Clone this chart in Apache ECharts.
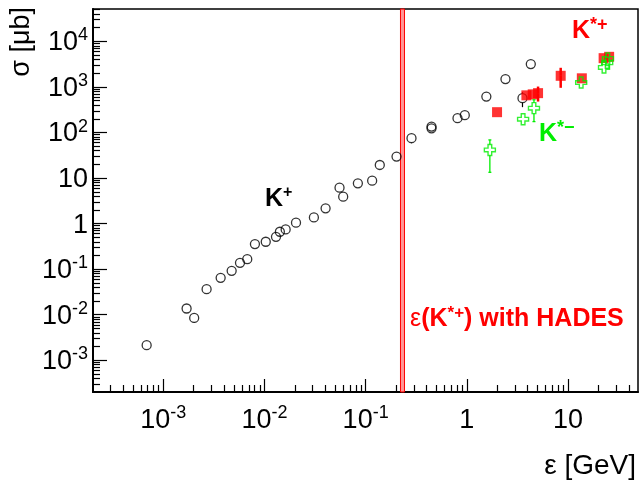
<!DOCTYPE html>
<html>
<head>
<meta charset="utf-8">
<script src="https://cdn.jsdelivr.net/npm/echarts@6/dist/echarts.min.js"></script>
<style>
  html, body { margin: 0; padding: 0; background: #fff; }
  #chart { width: 641px; height: 484px; }
</style>
</head>
<body>
<div id="chart"></div>
<script>
// ---- K+ production cross sections (open circles) ----
const kPlusEnergy = [6.85e-4, 1.70e-3, 2.02e-3, 2.68e-3, 3.69e-3, 4.74e-3, 5.73e-3, 6.76e-3, 8.05e-3,
  1.03e-2, 1.30e-2, 1.42e-2, 1.62e-2, 2.05e-2, 3.08e-2, 4.02e-2, 5.52e-2, 6.0e-2, 8.38e-2,
  0.116, 0.138, 0.202, 0.284, 0.448, 0.448, 0.809, 0.955, 1.56, 2.41, 3.55, 4.29];
const kPlusSigma = [2.14e-3, 1.37e-2, 8.5e-3, 3.64e-2, 6.46e-2, 9.2e-2, 0.138, 0.166, 0.356,
  0.40, 0.514, 0.663, 0.748, 1.05, 1.37, 2.17, 6.15, 3.90, 7.69,
  8.77, 19.4, 29.6, 75.1, 135, 124, 207, 241, 617, 1490, 569, 3184];
// K+ points that carry visible error bars
const kPlusErrEnergy = [2.02e-3, 6.0e-2, 0.284, 0.448, 3.55];
const kPlusErrSigma  = [8.5e-3, 3.90, 75.1, 124, 569];
const kPlusErrLow    = [6.6e-3, 3.1, 58, 105, 361];
const kPlusErrHigh   = [8.5e-3, 3.90, 75.1, 124, 771];

// ---- K*+ cross sections (filled squares) ----
const kStarPlusEnergy = [1.99, 3.88, 4.48, 5.06, 8.47, 13.7, 22.5, 25.5];
const kStarPlusSigma  = [280, 656, 690, 733, 1761, 1552, 4300, 4600];
const kStarPlusErrEnergy = [5.06, 8.47];
const kStarPlusErrSigma  = [733, 1761];
const kStarPlusErrLow    = [479, 960];
const kStarPlusErrHigh   = [1023, 2642];

// ---- K*- cross sections (open crosses) ----
const kStarMinusEnergy = [1.69, 3.60, 4.61, 13.5, 22.7, 24.4, 24.8];
const kStarMinusSigma  = [41.5, 196, 343, 1254, 2682, 3406, 4227];
const kStarMinusErrEnergy = [1.69, 4.61];
const kStarMinusErrSigma  = [41.5, 343];
const kStarMinusErrLow    = [13.4, 174];
const kStarMinusErrHigh   = [68.9, 523];

// excess energy reachable for K*+ with HADES (vertical band)
const hadesBand = [0.221, 0.242];

// ---- axis ticks ----
const xTickValues = [1e-3, 1e-2, 1e-1, 1, 10];
const yTickValues = [1e-3, 1e-2, 1e-1, 1, 10, 1e2, 1e3, 1e4];
const X_MIN = 2.02e-4, X_MAX = 49.2;
const Y_MIN = 2.01e-4, Y_MAX = 5.16e4;

function minorTicks(lo, hi) {
  const out = [];
  for (let e = -5; e <= 5; e++) {
    for (let k = 2; k <= 9; k++) {
      const v = k * Math.pow(10, e);
      if (v > lo && v < hi) out.push(v);
    }
  }
  return out;
}
const xMinor = minorTicks(X_MIN, X_MAX);
const yMinor = minorTicks(Y_MIN, Y_MAX);

const FONT = '"Liberation Sans", Arial, Helvetica, sans-serif';

function powLabel(v) {
  const e = Math.round(Math.log10(v));
  if (e === 0) return '{b|1}';
  if (e === 1) return '{b|10}';
  return '{b|10}{s|' + e + '}';
}
const tickRich = {
  b: { fontFamily: FONT, fontSize: 27, lineHeight: 30, color: '#000', verticalAlign: 'bottom' },
  s: { fontFamily: FONT, fontSize: 18, lineHeight: 18, color: '#000', verticalAlign: 'top' }
};

const zip = (a, b) => a.map((v, i) => [v, b[i]]);
const zip4 = (a, b, c, d) => a.map((v, i) => [v, b[i], c[i], d[i]]);

// vertical error bars that stop at the marker edge
function errorBarSeries(data, color, width, gap, cap, z) {
  return {
    type: 'custom',
    xAxisIndex: 0, yAxisIndex: 0,
    z: z,
    silent: true,
    encode: { x: 0, y: [1, 2, 3] },
    data: data,
    renderItem: function (params, api) {
      const x = api.value(0), y = api.value(1), lo = api.value(2), hi = api.value(3);
      const pc = api.coord([x, y]);
      const pl = api.coord([x, lo]);
      const ph = api.coord([x, hi]);
      const children = [];
      const st = { stroke: color, lineWidth: width };
      if (pl[1] > pc[1] + gap) children.push({ type: 'line', shape: { x1: pc[0], y1: pc[1] + gap, x2: pl[0], y2: pl[1] }, style: st });
      if (ph[1] < pc[1] - gap) children.push({ type: 'line', shape: { x1: pc[0], y1: pc[1] - gap, x2: ph[0], y2: ph[1] }, style: st });
      if (cap > 0) {
        children.push({ type: 'line', shape: { x1: pl[0] - cap, y1: pl[1], x2: pl[0] + cap, y2: pl[1] }, style: st });
        children.push({ type: 'line', shape: { x1: ph[0] - cap, y1: ph[1], x2: ph[0] + cap, y2: ph[1] }, style: st });
      }
      return { type: 'group', children: children };
    }
  };
}

function logAxis(isX, major) {
  const min = isX ? X_MIN : Y_MIN, max = isX ? X_MAX : Y_MAX;
  return {
    type: 'log', logBase: 10, min: min, max: max,
    position: isX ? 'bottom' : 'left',
    axisLine: { show: major, onZero: false, lineStyle: { color: '#000', width: 2 } },
    axisTick: {
      show: true, inside: true,
      length: major ? (isX ? 13 : 14) : 7,
      lineStyle: { color: '#000', width: 1.2 },
      customValues: major ? (isX ? xTickValues : yTickValues) : (isX ? xMinor : yMinor)
    },
    axisLabel: major ? {
      show: true,
      customValues: isX ? xTickValues : yTickValues,
      formatter: powLabel,
      rich: tickRich,
      margin: isX ? 12 : 5
    } : { show: false },
    splitLine: { show: false },
    minorTick: { show: false }
  };
}

// label with a superscript part
function supText(parts, x, y) {
  return {
    type: 'text', x: x, y: y, z: 100,
    style: {
      text: parts.text,
      rich: parts.rich,
      align: 'left', verticalAlign: 'middle'
    }
  };
}
function richStyles(color, size, supSize, weight) {
  return {
    b: { fill: color, fontFamily: FONT, fontSize: size, fontWeight: weight, lineHeight: size + 2, verticalAlign: 'bottom' },
    s: { fill: color, fontFamily: FONT, fontSize: supSize, fontWeight: weight, lineHeight: supSize, verticalAlign: 'top' },
    e: { fill: color, fontFamily: FONT, fontSize: size, fontWeight: 'normal', lineHeight: size + 2, verticalAlign: 'bottom' }
  };
}

const chart = echarts.init(document.getElementById('chart'), null, { renderer: 'canvas' });

chart.setOption({
  animation: false,
  backgroundColor: '#fff',
  grid: { left: 93, right: 3, top: 9, bottom: 92, show: true, borderColor: '#000', borderWidth: 1.5, backgroundColor: 'transparent' },
  xAxis: [logAxis(true, true), logAxis(true, false)],
  yAxis: [logAxis(false, true), logAxis(false, false)],
  graphic: [
    {
      type: 'text', x: 22, y: 7, rotation: Math.PI / 2,
      style: { text: 'σ [μb]', fill: '#000', font: '27px ' + FONT, align: 'right', verticalAlign: 'middle' }
    },
    {
      type: 'text', x: 636, y: 466,
      style: { text: 'ε [GeV]', fill: '#000', font: '28px ' + FONT, align: 'right', verticalAlign: 'middle' }
    },
    supText({ text: '{b|K}{s|+}', rich: richStyles('#000', 25, 16, 'bold') }, 265, 198),
    supText({ text: '{b|K}{s|*+}', rich: richStyles('#ff0000', 25, 18, 'bold') }, 572, 30),
    supText({ text: '{b|K}{s|*−}', rich: richStyles('#00ee00', 25, 18, 'bold') }, 539, 133),
    supText({ text: '{e|ε}{b|(K}{s|*+}{b|) with HADES}', rich: richStyles('#ff0000', 25, 17, 'bold') }, 410, 318)
  ],
  series: [
    {
      name: 'HADES', type: 'line', data: [], xAxisIndex: 0, yAxisIndex: 0, z: 1,
      markArea: {
        silent: true,
        itemStyle: { color: 'rgba(255,140,140,0.9)', borderColor: '#ff0000', borderWidth: 1 },
        data: [[{ xAxis: hadesBand[0] }, { xAxis: hadesBand[1] }]]
      }
    },
    errorBarSeries(zip4(kPlusErrEnergy, kPlusErrSigma, kPlusErrLow, kPlusErrHigh), '#000', 1.2, 4.5, 0, 3),
    {
      name: 'K+', type: 'scatter', xAxisIndex: 0, yAxisIndex: 0, z: 4,
      data: zip(kPlusEnergy, kPlusSigma),
      symbol: 'circle', symbolSize: 9,
      itemStyle: { color: 'rgba(0,0,0,0)', borderColor: '#000', borderWidth: 1.3 }
    },
    errorBarSeries(zip4(kStarPlusErrEnergy, kStarPlusErrSigma, kStarPlusErrLow, kStarPlusErrHigh), '#ff0000', 2.5, 0, 0, 5),
    {
      name: 'K*+', type: 'scatter', xAxisIndex: 0, yAxisIndex: 0, z: 6,
      data: zip(kStarPlusEnergy, kStarPlusSigma),
      symbol: 'rect', symbolSize: 10,
      itemStyle: { color: '#ff0000' }
    },
    errorBarSeries(zip4(kStarMinusErrEnergy, kStarMinusErrSigma, kStarMinusErrLow, kStarMinusErrHigh), '#00ee00', 1.3, 5.5, 1.5, 7),
    {
      name: 'K*-', type: 'scatter', xAxisIndex: 0, yAxisIndex: 0, z: 8,
      data: zip(kStarMinusEnergy, kStarMinusSigma),
      symbol: 'path://M4,0 H8 V4 H12 V8 H8 V12 H4 V8 H0 V4 H4 Z', symbolSize: 11,
      itemStyle: { color: 'rgba(255,255,255,0)', borderColor: '#00ee00', borderWidth: 1.4 }
    }
  ]
});
</script>
</body>
</html>
